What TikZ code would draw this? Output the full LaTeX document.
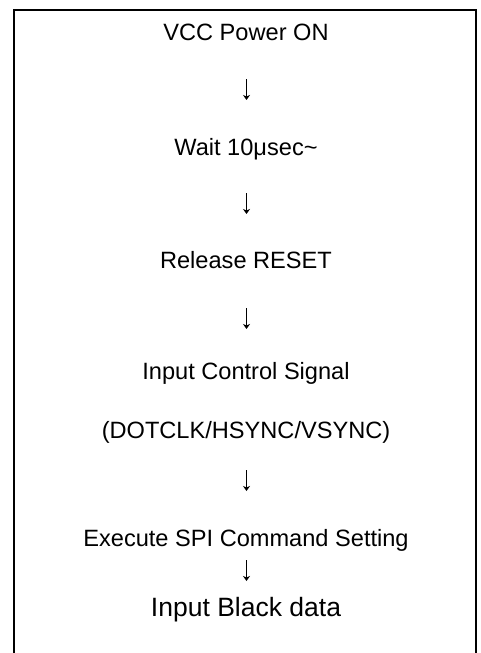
\documentclass[tikz,border=0pt]{standalone}
\usepackage{fontspec}
\setmainfont{Liberation Sans}
\usetikzlibrary{arrows.meta}
\begin{document}
\begin{tikzpicture}[x=1pt,y=-1pt,
  steptext/.style={inner sep=0pt,anchor=base,font=\fontsize{23.6}{28}\selectfont},
  bigtext/.style={inner sep=0pt,anchor=base,font=\fontsize{26.5}{31}\selectfont},
  steparrow/.style={draw=black,line width=0.9pt,-{Stealth[length=5pt,width=7pt,inset=1.5pt]}},
  boldarrow/.style={steparrow,line width=1.8pt},
  frame/.style={draw=black,line width=1.8pt}]
\useasboundingbox (0,0) rectangle (480,653);
\fill[white] (0,0) rectangle (480,653);
\draw[frame] (14,655) -- (14,10) -- (476,10) -- (476,655);
\node[steptext] (s1) at (246,40) {VCC Power ON};
\node[steptext] (s2) at (246,155) {Wait 10μsec\char"7E};
\node[steptext] (s3) at (246,268) {Release RESET};
\node[steptext] (s4) at (246,379) {Input Control Signal};
\node[steptext] (s5) at (246,438) {(DOTCLK/HSYNC/VSYNC)};
\node[steptext] (s6) at (246,546) {Execute SPI Command Setting};
\node[bigtext] (s7) at (246,616) {Input Black data};
\coordinate (a1s) at (246.5,79);  \coordinate (a1e) at (246.5,100);
\coordinate (a2s) at (246.5,193); \coordinate (a2e) at (246.5,214);
\coordinate (a3s) at (246.5,308); \coordinate (a3e) at (246.5,329);
\coordinate (a4s) at (246.5,470); \coordinate (a4e) at (246.5,491);
\coordinate (a5s) at (246.5,560); \coordinate (a5e) at (246.5,581);
\draw[steparrow] (a1s) -- (a1e);
\draw[steparrow] (a2s) -- (a2e);
\draw[steparrow] (a3s) -- (a3e);
\draw[steparrow] (a4s) -- (a4e);
\draw[boldarrow] (a5s) -- (a5e);
\end{tikzpicture}
\end{document}
